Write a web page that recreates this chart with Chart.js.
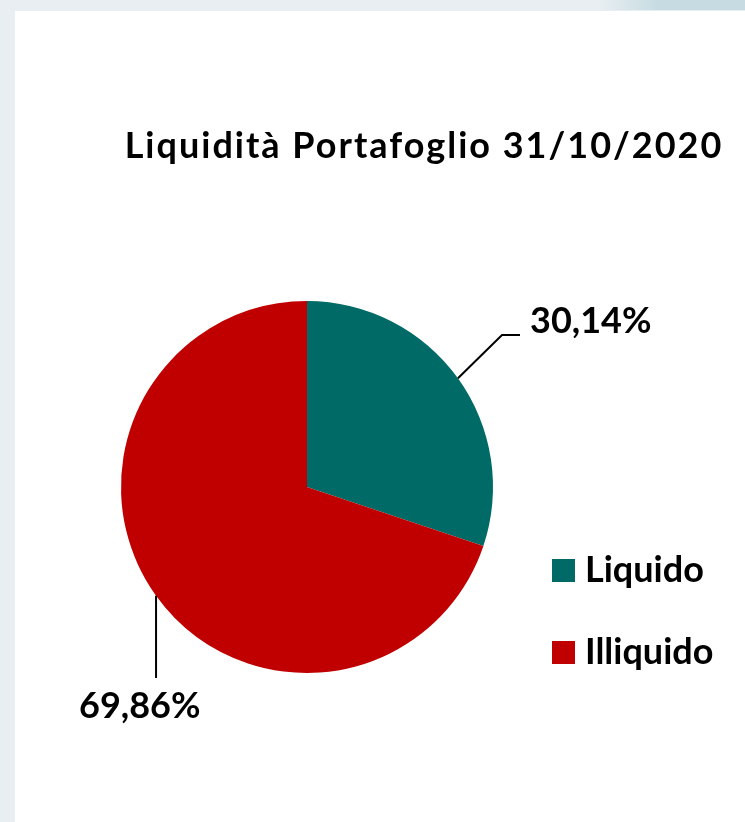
<!DOCTYPE html>
<html>
<head>
<meta charset="utf-8">
<script src="https://cdn.jsdelivr.net/npm/chart.js@4/dist/chart.umd.min.js"></script>
<style>
  html, body { margin: 0; padding: 0; overflow: hidden; }
  body { width: 745px; height: 822px; background: #e8eef2; position: relative; }
  #deco { position: absolute; left: 600px; top: 0; width: 145px; height: 10px;
          background: linear-gradient(to right, rgba(200,221,227,0), #c6dce2 40%, #c6dce2); }
  #panel { position: absolute; left: 15px; top: 11px; width: 730px; height: 811px; background: #ffffff; }
</style>
</head>
<body>
<div id="deco"></div>
<div id="panel"><canvas id="pie" width="730" height="811"></canvas></div>
<script>
const titleText = "Liquidità Portafoglio 31/10/2020";
// categories and their share of the portfolio (%)
const categories = ["Liquido", "Illiquido"];
const shares = [30.14, 69.86];
const sliceColors = ["#006a66", "#c00000"];

const FONT = "bold 36px Lato";

const fmt = (v) => v.toFixed(2).replace(".", ",") + "%";

// title, legend and labels with leader lines, drawn like the excel original
const decorPlugin = {
  id: "decor",
  afterDraw(chart) {
    const ctx = chart.ctx;
    ctx.save();
    ctx.fillStyle = "#000";
    ctx.font = FONT;
    ctx.textBaseline = "alphabetic";

    // title (calibri in the original is wider, so spread the letters a bit)
    ctx.textAlign = "center";
    ctx.letterSpacing = "2px";
    ctx.fillText(titleText, 409, 147);
    ctx.letterSpacing = "0px";

    // legend
    ctx.textAlign = "left";
    categories.forEach((c, i) => {
      const y = 548 + i * 82;
      ctx.fillStyle = sliceColors[i];
      ctx.fillRect(537, y, 23, 23);
      ctx.fillStyle = "#000";
      ctx.fillText(c, 570, y + 23);
    });

    // value labels
    const arcs = chart.getDatasetMeta(0).data;
    ctx.strokeStyle = "#000";
    ctx.lineWidth = 2;
    arcs.forEach((arc, i) => {
      const p = arc.getProps(["x", "y", "startAngle", "endAngle", "outerRadius"], true);
      const mid = (p.startAngle + p.endAngle) / 2;
      const ax = p.x + p.outerRadius * Math.cos(mid);
      const ay = p.y + p.outerRadius * Math.sin(mid);
      ctx.beginPath();
      ctx.moveTo(ax, ay);
      if (i == 0) {
        ctx.lineTo(487, 324);
        ctx.lineTo(505, 324);
        ctx.stroke();
        ctx.fillText(fmt(shares[i]), 515, 322);
      } else {
        ctx.lineTo(ax, 667);
        ctx.stroke();
        ctx.fillText(fmt(shares[i]), 64, 707);
      }
    });
    ctx.restore();
  },
};

new Chart(document.getElementById("pie"), {
  type: "pie",
  plugins: [decorPlugin],
  data: {
    labels: categories,
    datasets: [
      {
        data: shares,
        backgroundColor: sliceColors,
        borderWidth: 0,
      },
    ],
  },
  options: {
    responsive: false,
    animation: false,
    layout: { padding: { left: 106, top: 290, right: 252, bottom: 149 } },
    plugins: {
      legend: { display: false },
      title: { display: false },
      tooltip: { enabled: false },
    },
  },
});
</script>
</body>
</html>
